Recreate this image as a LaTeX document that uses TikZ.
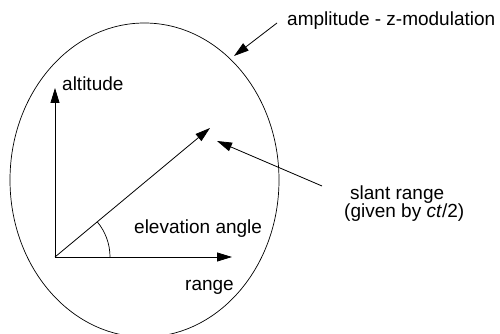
\documentclass[tikz,border=0pt]{standalone}
\usepackage{fontspec}
\setmainfont{Liberation Sans}
\usetikzlibrary{arrows.meta,calc}
\begin{document}
\begin{tikzpicture}[x=1pt,y=-1pt,
  lbl/.style={inner sep=0pt,anchor=west,font=\fontsize{19}{19}\selectfont},
  arr/.style={line width=0.8pt,-{Triangle[length=15pt,width=9pt]}},
  thin/.style={line width=0.7pt}]
\useasboundingbox (0,0) rectangle (500,334);
\begin{scope}
\clip (0,0) rectangle (500,334);
\draw[thin] (144.5,180) ellipse [x radius=134.5, y radius=157];
\end{scope}
\coordinate (O) at (55,257);
\coordinate (alt) at (55,88);
\coordinate (rng) at (232,257);
\coordinate (sl) at (210,128);
\coordinate (p1) at (322,186);
\coordinate (p2) at (217,141);
\coordinate (a1) at (277,23);
\coordinate (a2) at (234,56);
\draw[arr] (O) -- (alt);
\draw[arr] (O) -- (rng);
\draw[arr] (O) -- (sl);
\draw[thin] ($(O)+(55,0)$) arc[start angle=0,end angle=-39.8,radius=55];
\draw[arr] (p1) -- (p2);
\draw[arr] (a1) -- (a2);
\node[lbl] (tamp) at (287,21) {amplitude - z-modulation};
\node[lbl] (talt) at (62,84) {altitude};
\node[lbl] (telev) at (134,229) {elevation angle};
\node[lbl] (trng) at (185,287) {range};
\node[lbl] (tsl) at (350,195) {slant range};
\node[lbl] (tgiv) at (344,213) {(given by \textit{ct}/2)};
\end{tikzpicture}
\end{document}
